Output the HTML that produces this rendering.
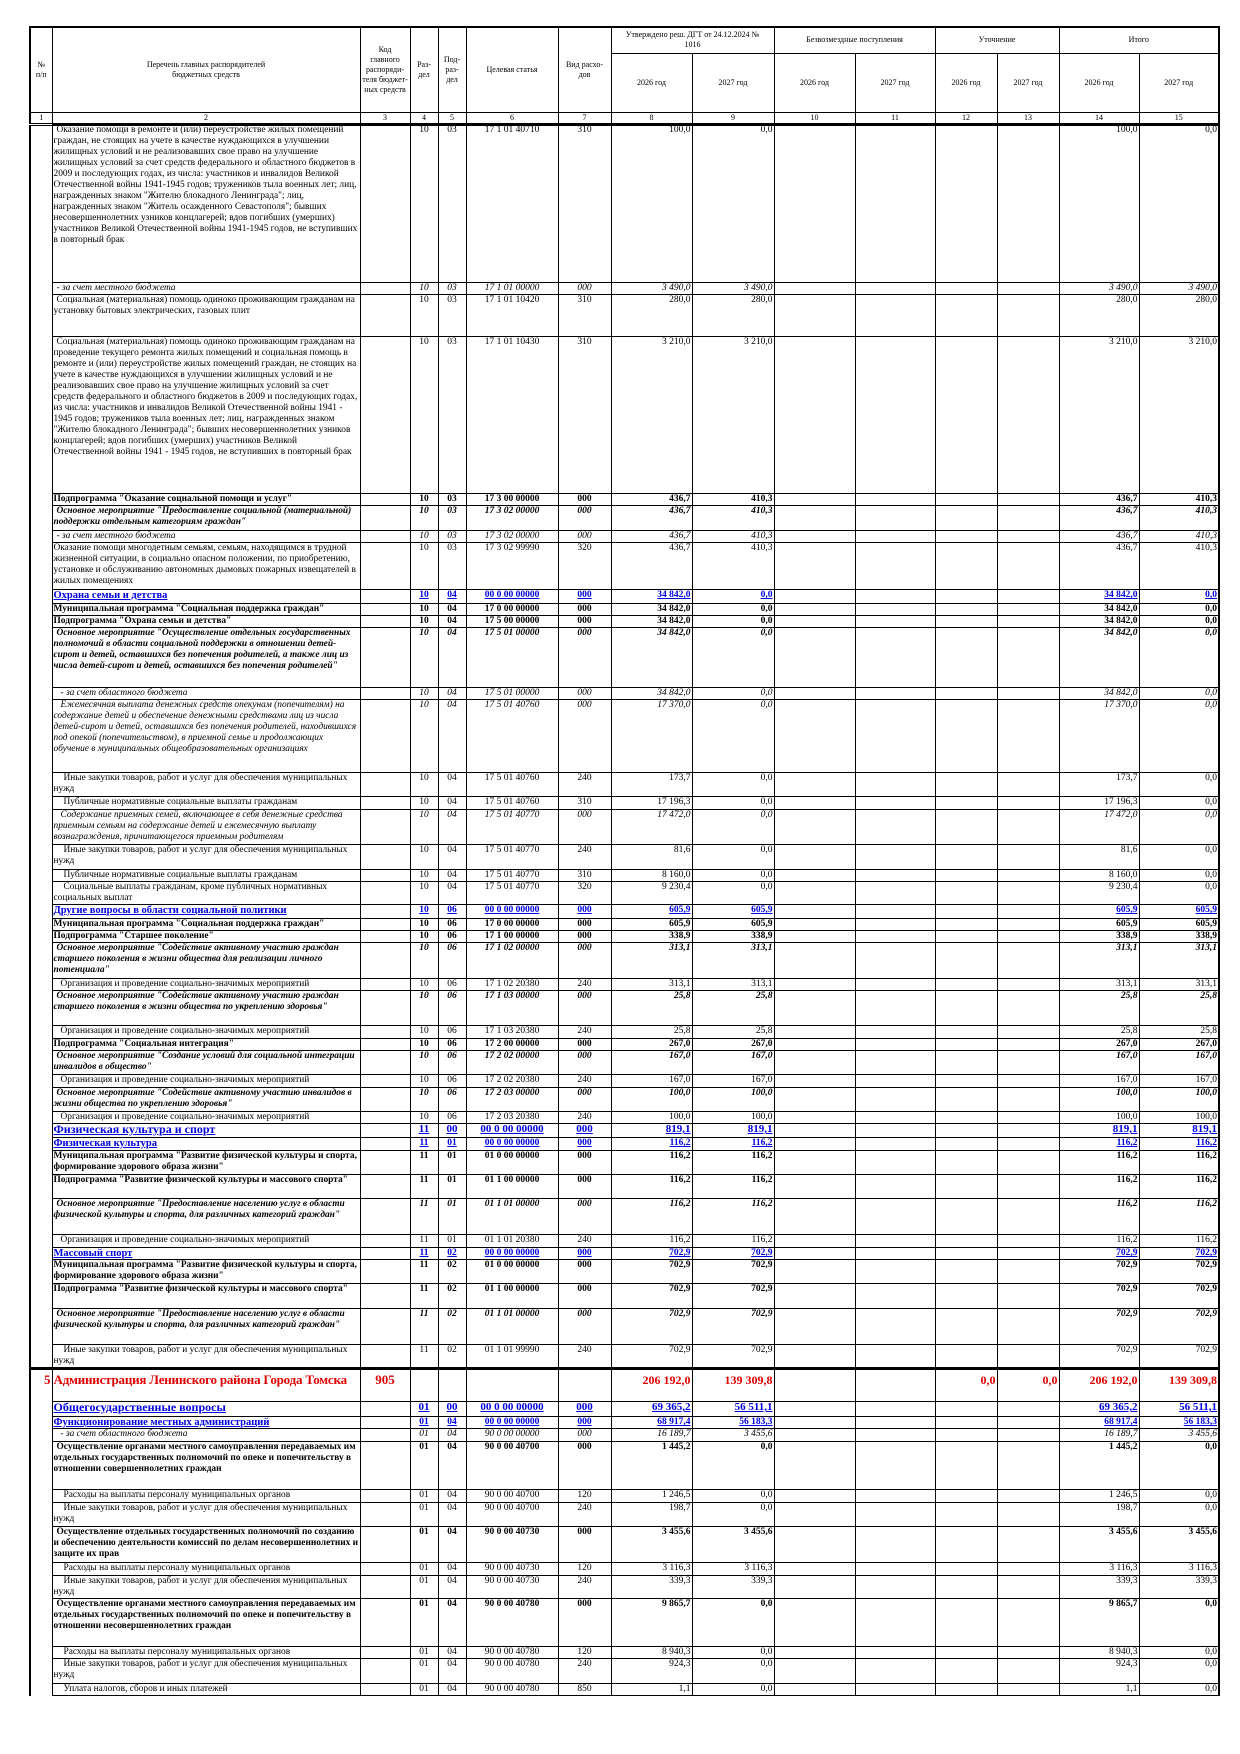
<!DOCTYPE html>
<html><head><meta charset="utf-8">
<style>
body{margin:0;width:1240px;height:1754px;background:#fff;position:relative;overflow:hidden}
table{position:absolute;left:29px;border-collapse:collapse;table-layout:fixed;font-family:"Liberation Serif",serif;font-size:9.4px;line-height:11px;color:#000}
td{border:1px solid #000;padding:0 1px;vertical-align:top;overflow:hidden;white-space:normal}
#h{top:26px;font-size:8px;line-height:10px}
#h td{text-align:center;vertical-align:middle}
#h tr.num td{border-bottom:3px double #000;line-height:10px}
#bd{top:124px}
#bd td:nth-child(n+3){text-align:center;font-size:9.5px}
#bd td:nth-child(n+8){text-align:right}
#bd td:nth-child(1){border-top:0;border-bottom:0;text-align:right}
#bd td:nth-child(2){text-align:left}
tr.i td{font-style:italic}
tr.b td{font-weight:bold}
tr.bi td{font-weight:bold;font-style:italic}
tr.ii td{font-style:italic}
tr.u td{font-weight:bold;color:#0000e0;text-decoration:underline;font-size:10.5px}
tr.u td:nth-child(n+3){font-size:9.5px}
tr.U td{font-weight:bold;color:#0000e0;text-decoration:underline;font-size:12px;line-height:11px}
#bd tr.U td:nth-child(n+3){font-size:11px}
tr.R td{font-weight:bold;color:#e00000;font-size:13px;line-height:16px;padding-top:2px;white-space:nowrap}
#bd tr.R td:nth-child(n+3){font-size:12px}
#bd tr.R td:nth-child(3){font-size:13px}
tr.top td{border-top:3px solid #000 !important}
.t1{text-indent:3px}.t2{text-indent:7px}.t3{text-indent:10px}
</style></head><body>
<table id="h" style="border:2px solid #000">
<colgroup><col style="width:22px"><col style="width:308px"><col style="width:50px"><col style="width:28px"><col style="width:28px"><col style="width:92px"><col style="width:53px"><col style="width:81px"><col style="width:82px"><col style="width:81px"><col style="width:80px"><col style="width:62px"><col style="width:62px"><col style="width:80px"><col style="width:80px"></colgroup>
<tr style="height:26px"><td rowspan="2">№<br>п/п</td><td rowspan="2">Перечень главных распорядителей<br>бюджетных средств</td><td rowspan="2">Код<br>главного<br>распоряди-<br>теля бюджет-<br>ных средств</td><td rowspan="2">Раз-<br>дел</td><td rowspan="2">Под-<br>раз-<br>дел</td><td rowspan="2">Целевая статья</td><td rowspan="2">Вид расхо-<br>дов</td><td colspan="2">Утверждено реш. ДГТ от 24.12.2024 №<br>1016</td><td colspan="2">Безвозмездные поступления</td><td colspan="2">Уточнение</td><td colspan="2">Итого</td></tr>
<tr style="height:59px"><td>2026 год</td><td>2027 год</td><td>2026 год</td><td>2027 год</td><td>2026 год</td><td>2027 год</td><td>2026 год</td><td>2027 год</td></tr>
<tr class="num" style="height:12px"><td>1</td><td>2</td><td>3</td><td>4</td><td>5</td><td>6</td><td>7</td><td>8</td><td>9</td><td>10</td><td>11</td><td>12</td><td>13</td><td>14</td><td>15</td></tr>
</table>
<table id="bd" style="border-left:2px solid #000;border-right:2px solid #000">
<colgroup><col style="width:22px"><col style="width:308px"><col style="width:50px"><col style="width:28px"><col style="width:28px"><col style="width:92px"><col style="width:53px"><col style="width:81px"><col style="width:82px"><col style="width:81px"><col style="width:80px"><col style="width:62px"><col style="width:62px"><col style="width:80px"><col style="width:80px"></colgroup>
<tr style="height:158px"><td></td><td class="t1">Оказание помощи в ремонте и (или) переустройстве жилых помещений граждан, не стоящих на учете в качестве нуждающихся в улучшении жилищных условий и не реализовавших свое право на улучшение жилищных условий за счет средств федерального и областного бюджетов в 2009 и последующих годах, из числа: участников и инвалидов Великой Отечественной войны 1941-1945 годов; тружеников тыла военных лет; лиц, награжденных знаком "Жителю блокадного Ленинграда"; лиц, награжденных знаком "Житель осажденного Севастополя"; бывших несовершеннолетних узников концлагерей; вдов погибших (умерших) участников Великой Отечественной войны 1941-1945 годов, не вступивших в повторный брак</td><td></td><td>10</td><td>03</td><td>17 1 01 40710</td><td>310</td><td>100,0</td><td>0,0</td><td></td><td></td><td></td><td></td><td>100,0</td><td>0,0</td></tr>
<tr class="i" style="height:12px"><td></td><td class="t1">- за счет местного бюджета</td><td></td><td>10</td><td>03</td><td>17 1 01 00000</td><td>000</td><td>3 490,0</td><td>3 490,0</td><td></td><td></td><td></td><td></td><td>3 490,0</td><td>3 490,0</td></tr>
<tr style="height:42px"><td></td><td class="t1">Социальная (материальная) помощь одиноко проживающим гражданам на установку бытовых электрических, газовых плит</td><td></td><td>10</td><td>03</td><td>17 1 01 10420</td><td>310</td><td>280,0</td><td>280,0</td><td></td><td></td><td></td><td></td><td>280,0</td><td>280,0</td></tr>
<tr style="height:157px"><td></td><td class="t1">Социальная (материальная) помощь одиноко проживающим гражданам на проведение текущего ремонта жилых помещений и социальная помощь в ремонте и (или) переустройстве жилых помещений граждан, не стоящих на учете в качестве нуждающихся в улучшении жилищных условий и не реализовавших свое право на улучшение жилищных условий за счет средств федерального и областного бюджетов в 2009 и последующих годах, из числа: участников и инвалидов Великой Отечественной войны 1941 - 1945 годов; тружеников тыла военных лет; лиц, награжденных знаком "Жителю блокадного Ленинграда"; бывших несовершеннолетних узников концлагерей; вдов погибших (умерших) участников Великой Отечественной войны 1941 - 1945 годов, не вступивших в повторный брак</td><td></td><td>10</td><td>03</td><td>17 1 01 10430</td><td>310</td><td>3 210,0</td><td>3 210,0</td><td></td><td></td><td></td><td></td><td>3 210,0</td><td>3 210,0</td></tr>
<tr class="b" style="height:12px"><td></td><td>Подпрограмма "Оказание социальной помощи и услуг"</td><td></td><td>10</td><td>03</td><td>17 3 00 00000</td><td>000</td><td>436,7</td><td>410,3</td><td></td><td></td><td></td><td></td><td>436,7</td><td>410,3</td></tr>
<tr class="bi" style="height:25px"><td></td><td class="t1">Основное мероприятие "Предоставление социальной (материальной) поддержки отдельным категориям граждан"</td><td></td><td>10</td><td>03</td><td>17 3 02 00000</td><td>000</td><td>436,7</td><td>410,3</td><td></td><td></td><td></td><td></td><td>436,7</td><td>410,3</td></tr>
<tr class="i" style="height:12px"><td></td><td class="t1">- за счет местного бюджета</td><td></td><td>10</td><td>03</td><td>17 3 02 00000</td><td>000</td><td>436,7</td><td>410,3</td><td></td><td></td><td></td><td></td><td>436,7</td><td>410,3</td></tr>
<tr style="height:47px"><td></td><td>Оказание помощи многодетным семьям, семьям, находящимся в трудной жизненной ситуации, в социально опасном положении, по приобретению, установке и обслуживанию автономных дымовых пожарных извещателей в жилых помещениях</td><td></td><td>10</td><td>03</td><td>17 3 02 99990</td><td>320</td><td>436,7</td><td>410,3</td><td></td><td></td><td></td><td></td><td>436,7</td><td>410,3</td></tr>
<tr class="u" style="height:14px"><td></td><td>Охрана семьи и детства</td><td></td><td>10</td><td>04</td><td>00 0 00 00000</td><td>000</td><td>34 842,0</td><td>0,0</td><td></td><td></td><td></td><td></td><td>34 842,0</td><td>0,0</td></tr>
<tr class="b" style="height:12px"><td></td><td>Муниципальная программа "Социальная поддержка граждан"</td><td></td><td>10</td><td>04</td><td>17 0 00 00000</td><td>000</td><td>34 842,0</td><td>0,0</td><td></td><td></td><td></td><td></td><td>34 842,0</td><td>0,0</td></tr>
<tr class="b" style="height:12px"><td></td><td>Подпрограмма "Охрана семьи и детства"</td><td></td><td>10</td><td>04</td><td>17 5 00 00000</td><td>000</td><td>34 842,0</td><td>0,0</td><td></td><td></td><td></td><td></td><td>34 842,0</td><td>0,0</td></tr>
<tr class="bi" style="height:60px"><td></td><td class="t1">Основное мероприятие "Осуществление отдельных государственных полномочий в области социальной поддержки в отношении детей-сирот и детей, оставшихся без попечения родителей, а также лиц из числа детей-сирот и детей, оставшихся без попечения родителей"</td><td></td><td>10</td><td>04</td><td>17 5 01 00000</td><td>000</td><td>34 842,0</td><td>0,0</td><td></td><td></td><td></td><td></td><td>34 842,0</td><td>0,0</td></tr>
<tr class="i" style="height:12px"><td></td><td class="t2">- за счет областного бюджета</td><td></td><td>10</td><td>04</td><td>17 5 01 00000</td><td>000</td><td>34 842,0</td><td>0,0</td><td></td><td></td><td></td><td></td><td>34 842,0</td><td>0,0</td></tr>
<tr class="ii" style="height:73px"><td></td><td class="t2">Ежемесячная выплата денежных средств опекунам (попечителям) на содержание детей и обеспечение денежными средствами лиц из числа детей-сирот и детей, оставшихся без попечения родителей, находившихся под опекой (попечительством), в приемной семье и продолжающих обучение в муниципальных общеобразовательных организациях</td><td></td><td>10</td><td>04</td><td>17 5 01 40760</td><td>000</td><td>17 370,0</td><td>0,0</td><td></td><td></td><td></td><td></td><td>17 370,0</td><td>0,0</td></tr>
<tr style="height:24px"><td></td><td class="t3">Иные закупки товаров, работ и услуг для обеспечения муниципальных нужд</td><td></td><td>10</td><td>04</td><td>17 5 01 40760</td><td>240</td><td>173,7</td><td>0,0</td><td></td><td></td><td></td><td></td><td>173,7</td><td>0,0</td></tr>
<tr style="height:13px"><td></td><td class="t3">Публичные нормативные социальные выплаты гражданам</td><td></td><td>10</td><td>04</td><td>17 5 01 40760</td><td>310</td><td>17 196,3</td><td>0,0</td><td></td><td></td><td></td><td></td><td>17 196,3</td><td>0,0</td></tr>
<tr class="ii" style="height:35px"><td></td><td class="t2">Содержание приемных семей, включающее в себя денежные средства приемным семьям на содержание детей и ежемесячную выплату вознаграждения, причитающегося приемным родителям</td><td></td><td>10</td><td>04</td><td>17 5 01 40770</td><td>000</td><td>17 472,0</td><td>0,0</td><td></td><td></td><td></td><td></td><td>17 472,0</td><td>0,0</td></tr>
<tr style="height:25px"><td></td><td class="t3">Иные закупки товаров, работ и услуг для обеспечения муниципальных нужд</td><td></td><td>10</td><td>04</td><td>17 5 01 40770</td><td>240</td><td>81,6</td><td>0,0</td><td></td><td></td><td></td><td></td><td>81,6</td><td>0,0</td></tr>
<tr style="height:12px"><td></td><td class="t3">Публичные нормативные социальные выплаты гражданам</td><td></td><td>10</td><td>04</td><td>17 5 01 40770</td><td>310</td><td>8 160,0</td><td>0,0</td><td></td><td></td><td></td><td></td><td>8 160,0</td><td>0,0</td></tr>
<tr style="height:23px"><td></td><td class="t3">Социальные выплаты гражданам, кроме публичных нормативных социальных выплат</td><td></td><td>10</td><td>04</td><td>17 5 01 40770</td><td>320</td><td>9 230,4</td><td>0,0</td><td></td><td></td><td></td><td></td><td>9 230,4</td><td>0,0</td></tr>
<tr class="u" style="height:14px"><td></td><td>Другие вопросы в области социальной политики</td><td></td><td>10</td><td>06</td><td>00 0 00 00000</td><td>000</td><td>605,9</td><td>605,9</td><td></td><td></td><td></td><td></td><td>605,9</td><td>605,9</td></tr>
<tr class="b" style="height:12px"><td></td><td>Муниципальная программа "Социальная поддержка граждан"</td><td></td><td>10</td><td>06</td><td>17 0 00 00000</td><td>000</td><td>605,9</td><td>605,9</td><td></td><td></td><td></td><td></td><td>605,9</td><td>605,9</td></tr>
<tr class="b" style="height:12px"><td></td><td>Подпрограмма "Старшее поколение"</td><td></td><td>10</td><td>06</td><td>17 1 00 00000</td><td>000</td><td>338,9</td><td>338,9</td><td></td><td></td><td></td><td></td><td>338,9</td><td>338,9</td></tr>
<tr class="bi" style="height:36px"><td></td><td class="t1">Основное мероприятие "Содействие активному участию граждан старшего поколения в жизни общества для реализации личного потенциала"</td><td></td><td>10</td><td>06</td><td>17 1 02 00000</td><td>000</td><td>313,1</td><td>313,1</td><td></td><td></td><td></td><td></td><td>313,1</td><td>313,1</td></tr>
<tr style="height:12px"><td></td><td class="t2">Организация и проведение социально-значимых мероприятий</td><td></td><td>10</td><td>06</td><td>17 1 02 20380</td><td>240</td><td>313,1</td><td>313,1</td><td></td><td></td><td></td><td></td><td>313,1</td><td>313,1</td></tr>
<tr class="bi" style="height:35px"><td></td><td class="t1">Основное мероприятие "Содействие активному участию граждан старшего поколения в жизни общества по укреплению здоровья"</td><td></td><td>10</td><td>06</td><td>17 1 03 00000</td><td>000</td><td>25,8</td><td>25,8</td><td></td><td></td><td></td><td></td><td>25,8</td><td>25,8</td></tr>
<tr style="height:13px"><td></td><td class="t2">Организация и проведение социально-значимых мероприятий</td><td></td><td>10</td><td>06</td><td>17 1 03 20380</td><td>240</td><td>25,8</td><td>25,8</td><td></td><td></td><td></td><td></td><td>25,8</td><td>25,8</td></tr>
<tr class="b" style="height:12px"><td></td><td>Подпрограмма "Социальная интеграция"</td><td></td><td>10</td><td>06</td><td>17 2 00 00000</td><td>000</td><td>267,0</td><td>267,0</td><td></td><td></td><td></td><td></td><td>267,0</td><td>267,0</td></tr>
<tr class="bi" style="height:24px"><td></td><td class="t1">Основное мероприятие "Создание условий для социальной интеграции инвалидов в общество"</td><td></td><td>10</td><td>06</td><td>17 2 02 00000</td><td>000</td><td>167,0</td><td>167,0</td><td></td><td></td><td></td><td></td><td>167,0</td><td>167,0</td></tr>
<tr style="height:13px"><td></td><td class="t2">Организация и проведение социально-значимых мероприятий</td><td></td><td>10</td><td>06</td><td>17 2 02 20380</td><td>240</td><td>167,0</td><td>167,0</td><td></td><td></td><td></td><td></td><td>167,0</td><td>167,0</td></tr>
<tr class="bi" style="height:24px"><td></td><td class="t1">Основное мероприятие "Содействие активному участию инвалидов в жизни общества по укреплению здоровья"</td><td></td><td>10</td><td>06</td><td>17 2 03 00000</td><td>000</td><td>100,0</td><td>100,0</td><td></td><td></td><td></td><td></td><td>100,0</td><td>100,0</td></tr>
<tr style="height:12px"><td></td><td class="t2">Организация и проведение социально-значимых мероприятий</td><td></td><td>10</td><td>06</td><td>17 2 03 20380</td><td>240</td><td>100,0</td><td>100,0</td><td></td><td></td><td></td><td></td><td>100,0</td><td>100,0</td></tr>
<tr class="U" style="height:14px"><td></td><td>Физическая культура и спорт</td><td></td><td>11</td><td>00</td><td>00 0 00 00000</td><td>000</td><td>819,1</td><td>819,1</td><td></td><td></td><td></td><td></td><td>819,1</td><td>819,1</td></tr>
<tr class="u" style="height:13px"><td></td><td>Физическая культура</td><td></td><td>11</td><td>01</td><td>00 0 00 00000</td><td>000</td><td>116,2</td><td>116,2</td><td></td><td></td><td></td><td></td><td>116,2</td><td>116,2</td></tr>
<tr class="b" style="height:24px"><td></td><td>Муниципальная программа "Развитие физической культуры и спорта, формирование здорового образа жизни"</td><td></td><td>11</td><td>01</td><td>01 0 00 00000</td><td>000</td><td>116,2</td><td>116,2</td><td></td><td></td><td></td><td></td><td>116,2</td><td>116,2</td></tr>
<tr class="b" style="height:24px"><td></td><td>Подпрограмма "Развитие физической культуры и массового спорта"</td><td></td><td>11</td><td>01</td><td>01 1 00 00000</td><td>000</td><td>116,2</td><td>116,2</td><td></td><td></td><td></td><td></td><td>116,2</td><td>116,2</td></tr>
<tr class="bi" style="height:36px"><td></td><td class="t1">Основное мероприятие "Предоставление населению услуг в области физической культуры и спорта, для различных категорий граждан"</td><td></td><td>11</td><td>01</td><td>01 1 01 00000</td><td>000</td><td>116,2</td><td>116,2</td><td></td><td></td><td></td><td></td><td>116,2</td><td>116,2</td></tr>
<tr style="height:13px"><td></td><td class="t2">Организация и проведение социально-значимых мероприятий</td><td></td><td>11</td><td>01</td><td>01 1 01 20380</td><td>240</td><td>116,2</td><td>116,2</td><td></td><td></td><td></td><td></td><td>116,2</td><td>116,2</td></tr>
<tr class="u" style="height:12px"><td></td><td>Массовый спорт</td><td></td><td>11</td><td>02</td><td>00 0 00 00000</td><td>000</td><td>702,9</td><td>702,9</td><td></td><td></td><td></td><td></td><td>702,9</td><td>702,9</td></tr>
<tr class="b" style="height:24px"><td></td><td>Муниципальная программа "Развитие физической культуры и спорта, формирование здорового образа жизни"</td><td></td><td>11</td><td>02</td><td>01 0 00 00000</td><td>000</td><td>702,9</td><td>702,9</td><td></td><td></td><td></td><td></td><td>702,9</td><td>702,9</td></tr>
<tr class="b" style="height:25px"><td></td><td>Подпрограмма "Развитие физической культуры и массового спорта"</td><td></td><td>11</td><td>02</td><td>01 1 00 00000</td><td>000</td><td>702,9</td><td>702,9</td><td></td><td></td><td></td><td></td><td>702,9</td><td>702,9</td></tr>
<tr class="bi" style="height:36px"><td></td><td class="t1">Основное мероприятие "Предоставление населению услуг в области физической культуры и спорта, для различных категорий граждан"</td><td></td><td>11</td><td>02</td><td>01 1 01 00000</td><td>000</td><td>702,9</td><td>702,9</td><td></td><td></td><td></td><td></td><td>702,9</td><td>702,9</td></tr>
<tr style="height:24px"><td></td><td class="t3">Иные закупки товаров, работ и услуг для обеспечения муниципальных нужд</td><td></td><td>11</td><td>02</td><td>01 1 01 99990</td><td>240</td><td>702,9</td><td>702,9</td><td></td><td></td><td></td><td></td><td>702,9</td><td>702,9</td></tr>
<tr class="R top" style="height:33px"><td>5</td><td style="letter-spacing:-0.2px">Администрация Ленинского района Города Томска</td><td>905</td><td></td><td></td><td></td><td></td><td>206 192,0</td><td>139 309,8</td><td></td><td></td><td>0,0</td><td>0,0</td><td>206 192,0</td><td>139 309,8</td></tr>
<tr class="U" style="height:15px"><td></td><td>Общегосударственные вопросы</td><td></td><td>01</td><td>00</td><td>00 0 00 00000</td><td>000</td><td>69 365,2</td><td>56 511,1</td><td></td><td></td><td></td><td></td><td>69 365,2</td><td>56 511,1</td></tr>
<tr class="u" style="height:12px"><td></td><td>Функционирование местных администраций</td><td></td><td>01</td><td>04</td><td>00 0 00 00000</td><td>000</td><td>68 917,4</td><td>56 183,3</td><td></td><td></td><td></td><td></td><td>68 917,4</td><td>56 183,3</td></tr>
<tr class="i" style="height:13px"><td></td><td class="t2">- за счет областного бюджета</td><td></td><td>01</td><td>04</td><td>90 0 00 00000</td><td>000</td><td>16 189,7</td><td>3 455,6</td><td></td><td></td><td></td><td></td><td>16 189,7</td><td>3 455,6</td></tr>
<tr class="b" style="height:48px"><td></td><td class="t1">Осуществление органами местного самоуправления передаваемых им отдельных государственных полномочий по опеке и попечительству в отношении совершеннолетних граждан</td><td></td><td>01</td><td>04</td><td>90 0 00 40700</td><td>000</td><td>1 445,2</td><td>0,0</td><td></td><td></td><td></td><td></td><td>1 445,2</td><td>0,0</td></tr>
<tr style="height:13px"><td></td><td class="t3">Расходы на выплаты персоналу муниципальных органов</td><td></td><td>01</td><td>04</td><td>90 0 00 40700</td><td>120</td><td>1 246,5</td><td>0,0</td><td></td><td></td><td></td><td></td><td>1 246,5</td><td>0,0</td></tr>
<tr style="height:24px"><td></td><td class="t3">Иные закупки товаров, работ и услуг для обеспечения муниципальных нужд</td><td></td><td>01</td><td>04</td><td>90 0 00 40700</td><td>240</td><td>198,7</td><td>0,0</td><td></td><td></td><td></td><td></td><td>198,7</td><td>0,0</td></tr>
<tr class="b" style="height:36px"><td></td><td class="t1">Осуществление отдельных государственных полномочий по созданию и обеспечению деятельности комиссий по делам несовершеннолетних и защите их прав</td><td></td><td>01</td><td>04</td><td>90 0 00 40730</td><td>000</td><td>3 455,6</td><td>3 455,6</td><td></td><td></td><td></td><td></td><td>3 455,6</td><td>3 455,6</td></tr>
<tr style="height:13px"><td></td><td class="t3">Расходы на выплаты персоналу муниципальных органов</td><td></td><td>01</td><td>04</td><td>90 0 00 40730</td><td>120</td><td>3 116,3</td><td>3 116,3</td><td></td><td></td><td></td><td></td><td>3 116,3</td><td>3 116,3</td></tr>
<tr style="height:23px"><td></td><td class="t3">Иные закупки товаров, работ и услуг для обеспечения муниципальных нужд</td><td></td><td>01</td><td>04</td><td>90 0 00 40730</td><td>240</td><td>339,3</td><td>339,3</td><td></td><td></td><td></td><td></td><td>339,3</td><td>339,3</td></tr>
<tr class="b" style="height:48px"><td></td><td class="t1">Осуществление органами местного самоуправления передаваемых им отдельных государственных полномочий по опеке и попечительству в отношении несовершеннолетних граждан</td><td></td><td>01</td><td>04</td><td>90 0 00 40780</td><td>000</td><td>9 865,7</td><td>0,0</td><td></td><td></td><td></td><td></td><td>9 865,7</td><td>0,0</td></tr>
<tr style="height:12px"><td></td><td class="t3">Расходы на выплаты персоналу муниципальных органов</td><td></td><td>01</td><td>04</td><td>90 0 00 40780</td><td>120</td><td>8 940,3</td><td>0,0</td><td></td><td></td><td></td><td></td><td>8 940,3</td><td>0,0</td></tr>
<tr style="height:25px"><td></td><td class="t3">Иные закупки товаров, работ и услуг для обеспечения муниципальных нужд</td><td></td><td>01</td><td>04</td><td>90 0 00 40780</td><td>240</td><td>924,3</td><td>0,0</td><td></td><td></td><td></td><td></td><td>924,3</td><td>0,0</td></tr>
<tr style="height:12px"><td style="border-bottom:0"></td><td class="t3">Уплата налогов, сборов и иных платежей</td><td></td><td>01</td><td>04</td><td>90 0 00 40780</td><td>850</td><td>1,1</td><td>0,0</td><td></td><td></td><td></td><td></td><td>1,1</td><td>0,0</td></tr>
</table>
</body></html>
